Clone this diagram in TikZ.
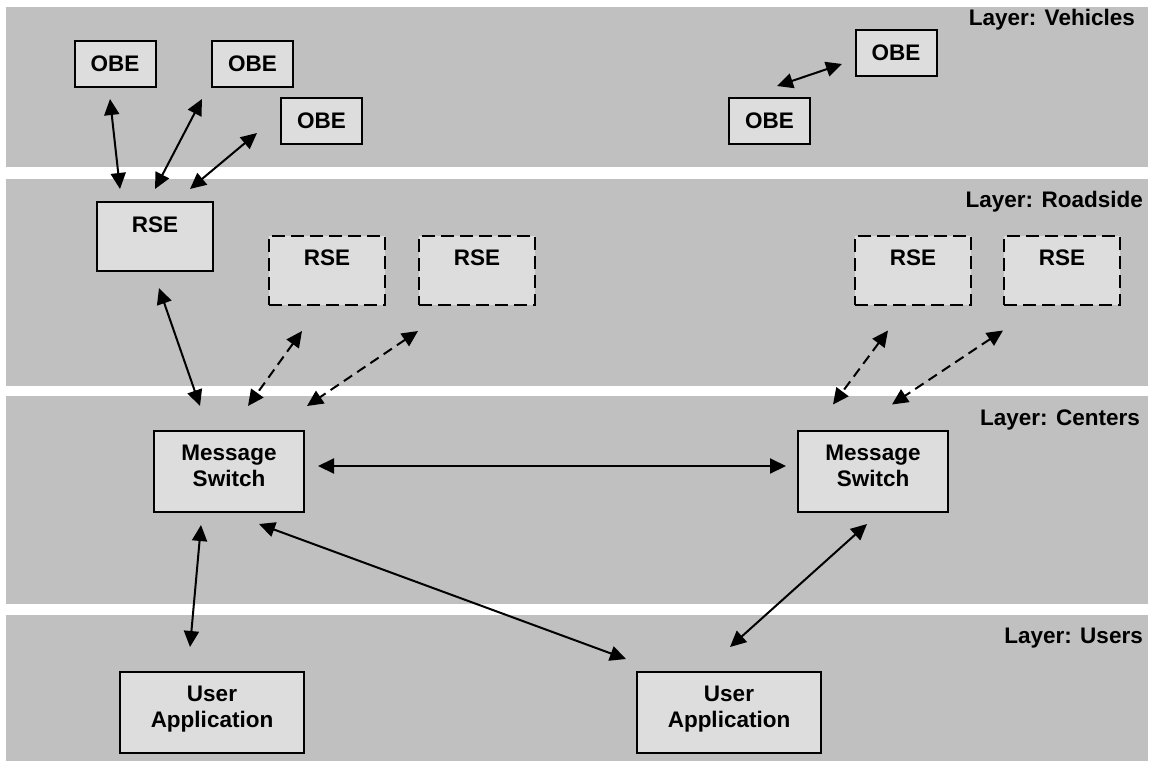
\documentclass[tikz,border=0pt]{standalone}
\usepackage{fontspec}
\setmainfont{Liberation Sans}
\usetikzlibrary{arrows.meta,calc}
\definecolor{band}{RGB}{192,192,192}
\definecolor{boxfill}{RGB}{221,221,221}
\begin{document}
\begin{tikzpicture}[x=1pt,y=-1pt,
  font=\fontsize{22.5}{26}\selectfont\bfseries,
  box/.style={draw=black, line width=2pt, fill=boxfill, inner sep=0pt},
  obebox/.style={box, minimum width=81pt, minimum height=46pt},
  rsebox/.style={box, minimum width=116pt, minimum height=69pt},
  rsedash/.style={rsebox, dash pattern=on 13pt off 6pt},
  msbox/.style={box, minimum width=150pt, minimum height=81pt},
  uabox/.style={box, minimum width=184pt, minimum height=81pt},
  layerlbl/.style={anchor=base east, inner sep=0pt},
  conn/.style={line width=2pt, {Triangle[length=16pt,width=15pt]}-{Triangle[length=16pt,width=15pt]}},
  dconn/.style={conn, dash pattern=on 10pt off 6pt}
]
\useasboundingbox (0,0) rectangle (1151,761);
% layer bands
\fill[band] (6,7) rectangle (1148,167);
\fill[band] (6,179) rectangle (1148,386);
\fill[band] (6,396) rectangle (1148,604);
\fill[band] (6,615) rectangle (1148,761);
% layer labels
\node[layerlbl] (lv) at (1135,25.5) {Layer: Vehicles};
\node[layerlbl] (lr) at (1143,207) {Layer: Roadside};
\node[layerlbl] (lc) at (1140,425) {Layer: Centers};
\node[layerlbl] (lu) at (1143,643) {Layer: Users};
% vehicles
\node[obebox] (obe1) at (115,64) {OBE};
\node[obebox] (obe2) at (252.5,64) {OBE};
\node[obebox] (obe3) at (321.5,121) {OBE};
\node[obebox] (obe4) at (769.5,121) {OBE};
\node[obebox] (obe5) at (896,52.5) {OBE};
% roadside
\node[rsebox, label={[yshift=11.5pt]center:RSE}] (rse1) at (155,236.5) {};
\node[rsedash, label={[yshift=12.5pt]center:RSE}] (rse2) at (327,270.5) {};
\node[rsedash, label={[yshift=12.5pt]center:RSE}] (rse3) at (477,270.5) {};
\node[rsedash, label={[yshift=12.5pt]center:RSE}] (rse4) at (913,270.5) {};
\node[rsedash, label={[yshift=12.5pt]center:RSE}] (rse5) at (1062,270.5) {};
% centers
\node[msbox, label={[align=center, yshift=5.5pt]center:Message\\Switch}] (ms1) at (229,471.5) {};
\node[msbox, label={[align=center, yshift=5.5pt]center:Message\\Switch}] (ms2) at (873,471.5) {};
% users
\node[uabox, label={[align=center, yshift=3.7pt]center:User\\Application}] (ua1) at (212,712.5) {};
\node[uabox, label={[align=center, yshift=3.7pt]center:User\\Application}] (ua2) at (729,712.5) {};
% connectors
\draw[conn] ($(obe1.south)+(-5,11)$) -- ($(rse1.north)+(-35,-12)$);
\draw[conn] ($(obe2.south)+(-50.5,11)$) -- ($(rse1.north)+(0,-12)$);
\draw[conn] ($(obe3.west)+(-23,12)$) -- ($(rse1.north)+(35,-12)$);
\draw[conn] ($(obe4.north)+(7.5,-11)$) -- ($(obe5.west)+(-12.5,11.5)$);
\draw[conn] ($(rse1.south)+(4,16)$) -- ($(ms1.north)+(-29,-24)$);
\draw[dconn] ($(rse2.south)+(-25,25)$) -- ($(ms1.north)+(19,-24)$);
\draw[dconn] ($(rse3.south)+(-59,25)$) -- ($(ms1.north)+(78,-24)$);
\draw[dconn] ($(rse4.south)+(-25,24.5)$) -- ($(ms2.north)+(-40,-25.5)$);
\draw[dconn] ($(rse5.south)+(-59,24.5)$) -- ($(ms2.north)+(19,-25.5)$);
\draw[conn] ($(ms1.east)+(13,-5.5)$) -- ($(ms2.west)+(-11,-5.5)$);
\draw[conn] ($(ms1.south)+(-28,12)$) -- ($(ua1.north)+(-22,-24)$);
\draw[conn] ($(ms1.south)+(30,11)$) -- ($(ua2.north)+(-103,-12)$);
\draw[conn] ($(ms2.south)+(-6,11)$) -- ($(ua2.north)+(1,-24)$);
\end{tikzpicture}
\end{document}
